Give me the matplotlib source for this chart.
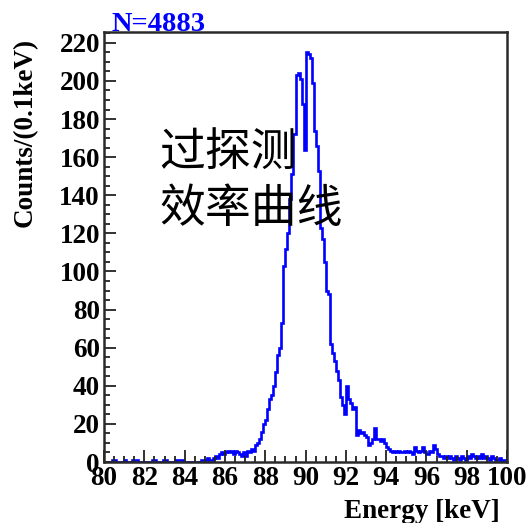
# energy spectrum of the peak region, 0.1 keV bins

import numpy as np
from matplotlib import pyplot as plt
from matplotlib.ticker import MultipleLocator

plt.rcParams['font.family'] = ['Liberation Serif', 'DejaVu Serif']

e_lo = 80.0
e_hi = 100.0
bin_w = 0.1
n_events = 4883

counts = [
    # 80.0 - 84.9
    0, 0, 0, 0, 1, 1, 0, 0, 0, 0,
    1, 0, 0, 0, 1, 1, 1, 0, 0, 0,
    0, 0, 0, 0, 1, 1, 0, 0, 0, 1,
    1, 0, 0, 0, 0, 1, 1, 1, 1, 0,
    0, 0, 0, 0, 0, 0, 0, 0, 1, 1,
    # 85.0 - 89.9
    1, 2, 1, 1, 2, 3, 2, 4, 5, 4,
    5, 6, 5, 6, 4, 6, 5, 4, 3, 5,
    3, 6, 5, 7, 6, 9, 10, 12, 16, 20,
    22, 28, 33, 35, 40, 47, 56, 60, 73, 103,
    112, 120, 138, 151, 172, 203, 204, 201, 188, 164,
    # 90.0 - 94.9
    215, 214, 212, 199, 174, 166, 153, 123, 117, 105,
    90, 88, 62, 57, 53, 48, 43, 34, 30, 25,
    40, 33, 31, 28, 29, 14, 17, 15, 16, 14,
    13, 9, 10, 12, 18, 12, 12, 11, 12, 10,
    8, 7, 6, 5, 6, 5, 6, 5, 5, 6,
    # 95.0 - 99.9
    5, 6, 5, 4, 8, 6, 5, 6, 8, 5,
    4, 6, 5, 9, 7, 4, 3, 3, 2, 3,
    2, 3, 2, 1, 3, 2, 1, 3, 2, 1,
    3, 2, 4, 3, 2, 3, 2, 4, 2, 3,
    2, 1, 3, 2, 1, 1, 2, 0, 1, 1,
]
edges = np.linspace(e_lo, e_hi, len(counts) + 1)

fig = plt.figure(figsize=(5.31, 5.23), dpi=100)
ax = fig.add_axes([0.196, 0.1166, 0.759, 0.8222])

ax.stairs(counts, edges, color='#0000ff', linewidth=1.9)

ax.set_xlim(e_lo, e_hi)
ax.set_ylim(0, 225.7)

ax.xaxis.set_major_locator(MultipleLocator(2))
ax.xaxis.set_minor_locator(MultipleLocator(0.5))
ax.yaxis.set_major_locator(MultipleLocator(20))
ax.yaxis.set_minor_locator(MultipleLocator(5))
ax.tick_params(which='both', direction='in', top=False, right=False,
               color='#222222', width=1.3)
ax.tick_params(which='major', length=8.5, pad=3, labelsize=19.5)
ax.tick_params(which='minor', length=4.5)
for lab in ax.get_xticklabels() + ax.get_yticklabels():
    lab.set_fontweight('bold')

for sp in ax.spines.values():
    sp.set_color('#2a2a2a')
    sp.set_linewidth(1.8)

fig.text(25 / 531, 1 - 132 / 523, 'Counts/(0.1keV)', rotation=90,
         ha='center', va='center', fontsize=19.5, fontweight='bold')
fig.text(500 / 531, 1 - 511 / 523, 'Energy [keV]', ha='right', va='center',
         fontsize=19.5, fontweight='bold')
fig.text(111 / 531, 1 - 31 / 523, 'N=%d' % n_events, ha='left',
         va='baseline', fontsize=20.5, fontweight='bold', color='#0000ff')

ax.text(0.138, 0.655, '过探测\n效率曲线', transform=ax.transAxes,
        ha='left', va='center', fontsize=33, linespacing=1.2,
        family=['Noto Sans CJK SC', 'DejaVu Sans'], color='black')

fig.savefig('out.png', dpi=100)
